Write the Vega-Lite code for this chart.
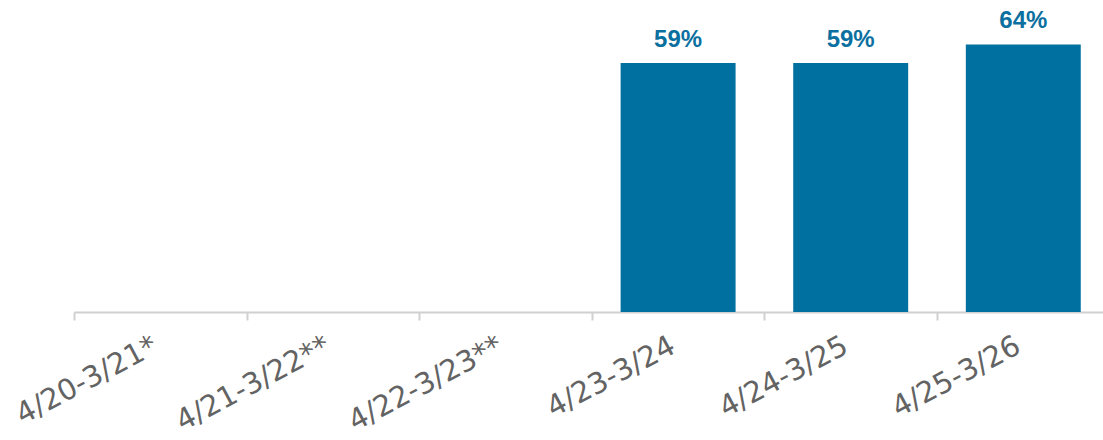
{
  "$schema": "https://vega.github.io/schema/vega-lite/v6.json",
  "width": 1035.6,
  "height": 312,
  "autosize": "none",
  "padding": {"left": 74, "top": 0, "right": 0, "bottom": 128},
  "background": "white",
  "config": {"view": {"stroke": null}},
  "data": {
    "values": [
      {"period": "4/20-3/21*", "value": null, "label": ""},
      {"period": "4/21-3/22**", "value": null, "label": ""},
      {"period": "4/22-3/23**", "value": null, "label": ""},
      {"period": "4/23-3/24", "value": 59.4, "label": "59%"},
      {"period": "4/24-3/25", "value": 59.4, "label": "59%"},
      {"period": "4/25-3/26", "value": 63.8, "label": "64%"}
    ]
  },
  "encoding": {
    "x": {
      "field": "period",
      "type": "nominal",
      "sort": null,
      "scale": {
        "domain": ["4/20-3/21*", "4/21-3/22**", "4/22-3/23**", "4/23-3/24", "4/24-3/25", "4/25-3/26"],
        "paddingInner": 0,
        "paddingOuter": 0
      },
      "axis": {
        "title": null,
        "tickBand": "extent",
        "labelAngle": -28,
        "labelAlign": "right",
        "labelBaseline": "top",
        "labelFont": "DejaVu Sans",
        "labelFontSize": 29,
        "labelLimit": 400,
        "labelColor": "#636363",
        "labelPadding": 11,
        "labelOffset": -12,
        "domainColor": "#D0D0D0",
        "domainWidth": 2,
        "tickColor": "#D0D0D0",
        "tickWidth": 2,
        "tickSize": 8
      }
    },
    "y": {
      "field": "value",
      "type": "quantitative",
      "scale": {"domain": [0, 74.4], "nice": false},
      "axis": null
    }
  },
  "layer": [
    {"mark": {"type": "bar", "color": "#0070A0", "width": {"band": 0.666}}},
    {
      "mark": {
        "type": "text",
        "dy": -16,
        "baseline": "alphabetic",
        "font": "Liberation Sans",
        "fontWeight": "bold",
        "fontSize": 24,
        "color": "#0B6FA0"
      },
      "encoding": {
        "text": {"field": "label", "type": "nominal"}
      }
    }
  ]
}
